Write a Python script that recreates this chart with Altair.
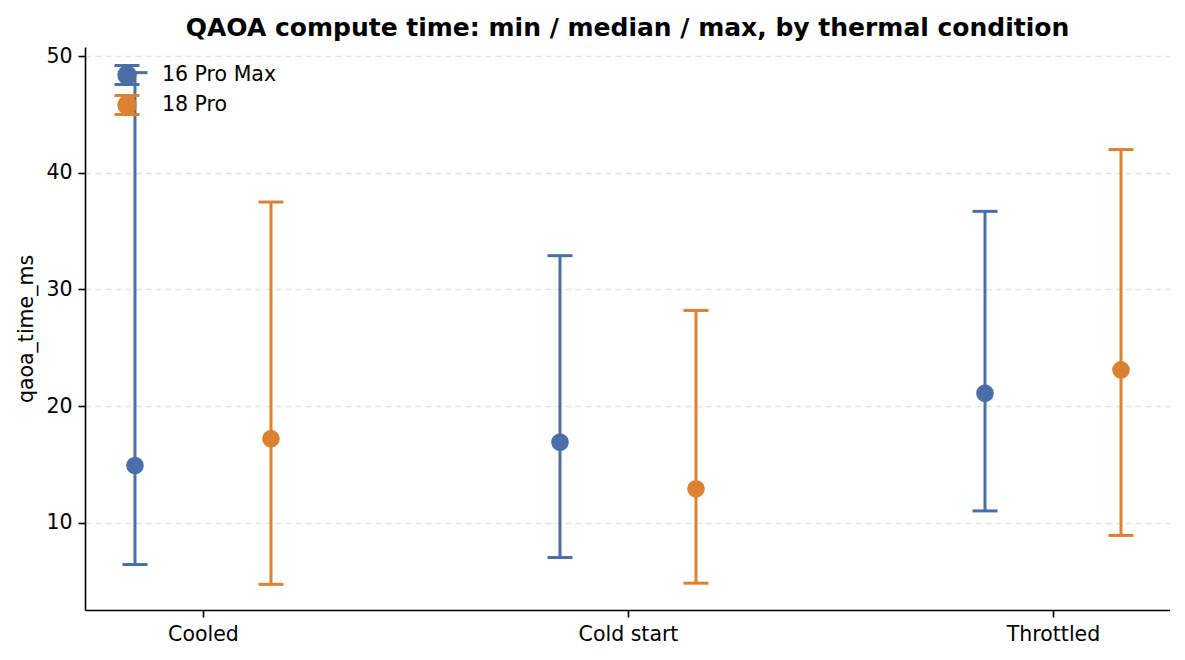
import altair as alt
import pandas as pd

conditions = ["Cooled", "Cold start", "Throttled"]
devices = ["16 Pro Max", "18 Pro"]
colors = ["#4a6ea7", "#dc8130"]

min_16pm = [6.4, 7.0, 11.0]
med_16pm = [14.9, 16.9, 21.1]
max_16pm = [48.6, 32.9, 36.7]

min_18p = [4.7, 4.8, 8.9]
med_18p = [17.2, 12.9, 23.1]
max_18p = [37.5, 28.2, 42.0]

offsets = [-0.16, 0.16]

rows = []
for di, (dev, mins, meds, maxs) in enumerate(
    [(devices[0], min_16pm, med_16pm, max_16pm), (devices[1], min_18p, med_18p, max_18p)]
):
    for ci, cond in enumerate(conditions):
        rows.append(
            dict(condition=cond, device=dev, xpos=ci + offsets[di],
                 lo=mins[ci], med=meds[ci], hi=maxs[ci])
        )
df = pd.DataFrame(rows)

FONT = "DejaVu Sans"
xscale = alt.Scale(domain=[-0.2776, 2.2753], nice=False, zero=False)
yscale = alt.Scale(domain=[2.5, 50.8], nice=False, zero=False)
cscale = alt.Scale(domain=devices, range=colors)

label_expr = "datum.value == 0 ? 'Cooled' : datum.value == 1 ? 'Cold start' : 'Throttled'"

xaxis = alt.Axis(values=[0, 1, 2], labelExpr=label_expr, title=None, grid=False,
                 labelFontSize=20.5, labelFont=FONT, labelColor="black",
                 tickColor="black", tickSize=7, tickWidth=1.6, domainColor="black",
                 domainWidth=1.6, labelPadding=7)
yaxis = alt.Axis(values=[10, 20, 30, 40, 50], title="qaoa_time_ms", grid=True,
                 gridColor="#e3e3e3", gridDash=[6, 4], gridWidth=1.4,
                 labelFontSize=20.5, labelFont=FONT, labelColor="black",
                 titleFontSize=20.5, titleFont=FONT, titleFontWeight="normal",
                 titleColor="black", titlePadding=9,
                 tickColor="black", tickSize=7, tickWidth=1.6, domainColor="black",
                 domainWidth=1.6, labelPadding=6)

legend_path = ("M-1,-0.76L1,-0.76M0,-0.76L0,0.76M-1,0.76L1,0.76"
               "M0.66,0A0.66,0.66,0,1,1,-0.66,0A0.66,0.66,0,1,1,0.66,0Z")

leg = alt.Legend(title=None, symbolType=legend_path)

base = alt.Chart(df)

rules = base.mark_rule(strokeWidth=3, opacity=1).encode(
    x=alt.X("xpos:Q", scale=xscale, axis=xaxis),
    y=alt.Y("lo:Q", scale=yscale, axis=yaxis),
    y2="hi:Q",
    color=alt.Color("device:N", scale=cscale, legend=leg),
)

caps_lo = base.mark_tick(orient="horizontal", size=25, thickness=3, opacity=1).encode(
    x=alt.X("xpos:Q", scale=xscale),
    y=alt.Y("lo:Q", scale=yscale),
    color=alt.Color("device:N", scale=cscale, legend=leg),
)
caps_hi = base.mark_tick(orient="horizontal", size=25, thickness=3, opacity=1).encode(
    x=alt.X("xpos:Q", scale=xscale),
    y=alt.Y("hi:Q", scale=yscale),
    color=alt.Color("device:N", scale=cscale, legend=leg),
)

points = base.mark_point(filled=True, size=230, strokeWidth=2.5, opacity=1).encode(
    x=alt.X("xpos:Q", scale=xscale),
    y=alt.Y("med:Q", scale=yscale),
    color=alt.Color("device:N", scale=cscale, legend=leg),
    stroke=alt.Stroke("device:N", scale=cscale, legend=leg),
)

chart = (
    alt.layer(rules, caps_lo, caps_hi, points)
    .properties(
        width=1085,
        height=563,
        title=alt.TitleParams(
            "QAOA compute time: min / median / max, by thermal condition",
            font=FONT, fontSize=25, fontWeight="bold", color="black",
            anchor="middle", baseline="alphabetic", offset=12, dy=27,
        ),
        autosize=alt.AutoSizeParams(type="none"),
        padding={"left": 77, "top": 39, "right": 0, "bottom": 44},
    )
    .configure(background="white")
    .configure_view(stroke=None)
    .configure_legend(
        orient="none", legendX=28, legendY=14, symbolSize=625,
        symbolStrokeWidth=3, labelFontSize=20.5, labelFont=FONT,
        labelColor="black", labelOffset=21, rowPadding=-2, padding=0,
        symbolOpacity=1,
    )
)

chart.save("out.html", embed_options={"renderer": "svg", "actions": False})
